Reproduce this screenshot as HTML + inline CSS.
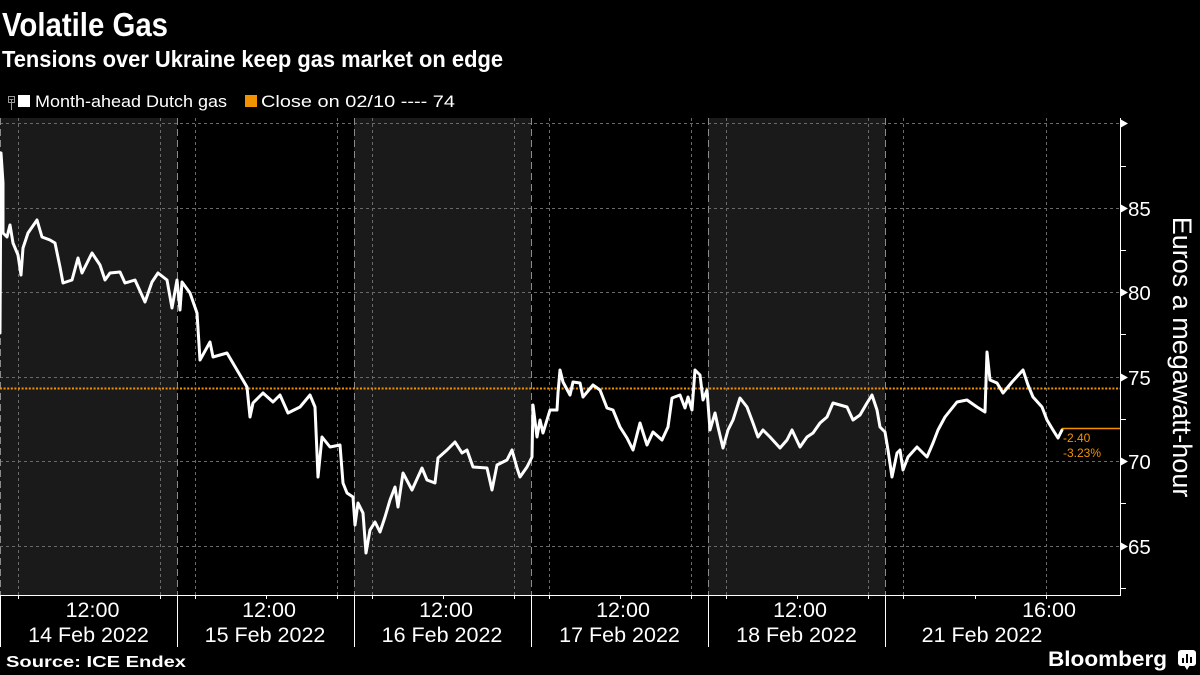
<!DOCTYPE html>
<html><head><meta charset="utf-8"><style>
html,body{margin:0;padding:0;background:#000;}
svg{display:block;}
text{font-family:"Liberation Sans",sans-serif;}
</style></head><body>
<svg width="1200" height="675" viewBox="0 0 1200 675" xmlns="http://www.w3.org/2000/svg">
<rect x="0" y="0" width="1200" height="675" fill="#000"/>
<!-- titles -->
<text x="2" y="36" font-size="33" font-weight="bold" fill="#fff" textLength="166" lengthAdjust="spacingAndGlyphs">Volatile Gas</text>
<text x="2" y="67" font-size="23" font-weight="bold" fill="#fff" textLength="501" lengthAdjust="spacingAndGlyphs">Tensions over Ukraine keep gas market on edge</text>
<!-- legend -->
<rect x="8.5" y="96.5" width="6" height="6" fill="none" stroke="#999" stroke-width="1"/>
<line x1="11.5" y1="99.5" x2="11.5" y2="110" stroke="#999" stroke-width="1"/>
<line x1="9.5" y1="99.5" x2="13.5" y2="99.5" stroke="#999" stroke-width="1"/>
<rect x="18" y="95" width="12" height="12" fill="#fff"/>
<text x="35" y="107" font-size="17" fill="#fff" textLength="192" lengthAdjust="spacingAndGlyphs">Month-ahead Dutch gas</text>
<rect x="245" y="95" width="12" height="12" fill="#f39200"/>
<text x="261" y="107" font-size="17" fill="#fff" textLength="194" lengthAdjust="spacingAndGlyphs">Close on 02/10 ---- 74</text>
<!-- shaded day bands -->
<rect x="0" y="118" width="177" height="477" fill="#1a1a1a"/>
<rect x="354" y="118" width="177" height="477" fill="#1a1a1a"/>
<rect x="708" y="118" width="177" height="477" fill="#1a1a1a"/>
<!-- horizontal grid -->
<g stroke="#6a6a6a" stroke-width="1" stroke-dasharray="3,3">
<line x1="0" y1="123.5" x2="1120" y2="123.5"/>
<line x1="0" y1="208.5" x2="1120" y2="208.5"/>
<line x1="0" y1="292.5" x2="1120" y2="292.5"/>
<line x1="0" y1="377.5" x2="1120" y2="377.5"/>
<line x1="0" y1="461.5" x2="1120" y2="461.5"/>
<line x1="0" y1="546.5" x2="1120" y2="546.5"/>
</g>
<!-- vertical grid -->
<g stroke="#6a6a6a" stroke-width="1" stroke-dasharray="3,3">
<line x1="18.5" y1="118" x2="18.5" y2="595"/>
<line x1="160.5" y1="118" x2="160.5" y2="595"/>
<line x1="195.5" y1="118" x2="195.5" y2="595"/>
<line x1="337.5" y1="118" x2="337.5" y2="595"/>
<line x1="372.5" y1="118" x2="372.5" y2="595"/>
<line x1="514.5" y1="118" x2="514.5" y2="595"/>
<line x1="549.5" y1="118" x2="549.5" y2="595"/>
<line x1="691.5" y1="118" x2="691.5" y2="595"/>
<line x1="726.5" y1="118" x2="726.5" y2="595"/>
<line x1="868.5" y1="118" x2="868.5" y2="595"/>
<line x1="903.5" y1="118" x2="903.5" y2="595"/>
<line x1="1046.5" y1="118" x2="1046.5" y2="595"/>
</g>
<!-- day separators -->
<g stroke="#8a8a8a" stroke-width="1" stroke-dasharray="7,4">
<line x1="0.5" y1="118" x2="0.5" y2="595"/>
<line x1="177.5" y1="118" x2="177.5" y2="595"/>
<line x1="354.5" y1="118" x2="354.5" y2="595"/>
<line x1="531.5" y1="118" x2="531.5" y2="595"/>
<line x1="708.5" y1="118" x2="708.5" y2="595"/>
<line x1="885.5" y1="118" x2="885.5" y2="595"/>
</g>
<!-- close line -->
<line x1="0" y1="388.5" x2="1120" y2="388.5" stroke="#f39200" stroke-width="2" stroke-dasharray="2,1.6"/>
<!-- series -->
<polyline fill="none" stroke="#fff" stroke-width="3" stroke-linejoin="round" stroke-linecap="round" points="0,333 1,153 3,183 3,233 7,237 10,225 13,243 18,255 21,275 23,248 28,233 37,220 42,237 50,240 55,243 60,267 63,283 72,280 78,258 82,273 92,253 100,265 105,280 110,273 120,272 125,283 135,280 145,302 152,282 158,273 167,280 172,308 177,280 180,310 182,282 190,293 197,313 200,360 210,342 213,357 227,353 237,370 247,387 250,417 253,403 263,393 273,402 280,395 288,413 300,407 310,395 315,407 318,477 322,437 330,447 340,445 343,483 347,493 353,497 355,525 358,503 363,513 366,553 370,530 375,522 380,532 385,517 390,500 395,487 398,507 403,473 412,490 422,468 427,480 435,483 438,458 447,450 455,442 462,453 467,450 473,467 487,468 492,490 497,465 507,460 512,450 517,468 520,477 527,467 532,457 533,405 537,437 540,420 543,433 550,410 557,410 558,393 560,370 563,382 570,395 573,382 580,383 583,397 593,385 600,390 607,408 613,410 620,427 627,438 633,450 640,423 647,445 653,432 662,440 668,427 672,398 680,395 685,408 688,397 692,410 695,370 700,375 703,400 707,390 710,430 715,413 718,427 723,448 728,430 733,420 740,398 747,407 753,423 758,437 763,430 770,437 780,448 787,440 792,430 800,447 807,437 813,433 820,423 827,417 833,403 840,405 847,407 853,420 860,415 867,403 872,395 877,410 880,427 885,432 888,450 892,477 897,453 900,450 903,470 908,457 917,447 927,457 933,443 938,430 945,417 957,402 967,400 977,407 985,412 987,352 990,380 997,383 1003,393 1012,382 1023,370 1028,385 1033,397 1042,407 1047,420 1053,430 1058,438 1062,430"/>
<!-- end annotation -->
<line x1="1062" y1="428.5" x2="1120" y2="428.5" stroke="#f39200" stroke-width="1.5"/>
<text x="1063" y="442" font-size="12" fill="#f39200">-2.40</text>
<text x="1063" y="457" font-size="12" fill="#f39200">-3.23%</text>
<!-- right axis -->
<line x1="1120.5" y1="118" x2="1120.5" y2="595" stroke="#fff" stroke-width="1"/>
<g fill="#fff">
<polygon points="1120,119 1128,123.5 1120,128"/>
<polygon points="1120,204 1128,208.5 1120,213"/>
<polygon points="1120,288 1128,292.5 1120,297"/>
<polygon points="1120,373 1128,377.5 1120,382"/>
<polygon points="1120,457 1128,461.5 1120,466"/>
<polygon points="1120,542 1128,546.5 1120,551"/>
</g>
<g stroke="#fff" stroke-width="1">
<line x1="1120" y1="166.5" x2="1126" y2="166.5"/>
<line x1="1120" y1="250.5" x2="1126" y2="250.5"/>
<line x1="1120" y1="334.5" x2="1126" y2="334.5"/>
<line x1="1120" y1="419.5" x2="1126" y2="419.5"/>
<line x1="1120" y1="503.5" x2="1126" y2="503.5"/>
<line x1="1120" y1="588.5" x2="1126" y2="588.5"/>
</g>
<g font-size="20.5" fill="#fff">
<text x="1128" y="216">85</text>
<text x="1128" y="300">80</text>
<text x="1128" y="385">75</text>
<text x="1128" y="469">70</text>
<text x="1128" y="554">65</text>
</g>
<text x="0" y="0" font-size="27" fill="#fff" text-anchor="middle" transform="translate(1173,357) rotate(90)">Euros a megawatt-hour</text>
<!-- bottom axis -->
<line x1="0" y1="595.5" x2="1121" y2="595.5" stroke="#fff" stroke-width="1"/>
<g stroke="#fff" stroke-width="1">
<line x1="0.5" y1="595" x2="0.5" y2="647"/>
<line x1="177.5" y1="595" x2="177.5" y2="647"/>
<line x1="354.5" y1="595" x2="354.5" y2="647"/>
<line x1="531.5" y1="595" x2="531.5" y2="647"/>
<line x1="708.5" y1="595" x2="708.5" y2="647"/>
<line x1="885.5" y1="595" x2="885.5" y2="647"/>
<line x1="18.5" y1="595" x2="18.5" y2="599"/>
<line x1="160.5" y1="595" x2="160.5" y2="599"/>
<line x1="195.5" y1="595" x2="195.5" y2="599"/>
<line x1="266.5" y1="595" x2="266.5" y2="599"/>
<line x1="337.5" y1="595" x2="337.5" y2="599"/>
<line x1="372.5" y1="595" x2="372.5" y2="599"/>
<line x1="443.5" y1="595" x2="443.5" y2="599"/>
<line x1="514.5" y1="595" x2="514.5" y2="599"/>
<line x1="549.5" y1="595" x2="549.5" y2="599"/>
<line x1="620.5" y1="595" x2="620.5" y2="599"/>
<line x1="691.5" y1="595" x2="691.5" y2="599"/>
<line x1="726.5" y1="595" x2="726.5" y2="599"/>
<line x1="797.5" y1="595" x2="797.5" y2="599"/>
<line x1="868.5" y1="595" x2="868.5" y2="599"/>
<line x1="903.5" y1="595" x2="903.5" y2="599"/>
<line x1="975.5" y1="595" x2="975.5" y2="599"/>
<line x1="1046.5" y1="595" x2="1046.5" y2="599"/>
</g>
<g font-size="21.5" fill="#fff" text-anchor="middle">
<text x="92.5" y="617">12:00</text>
<text x="88.5" y="642">14 Feb 2022</text>
<text x="269" y="617">12:00</text>
<text x="265" y="642">15 Feb 2022</text>
<text x="446" y="617">12:00</text>
<text x="442" y="642">16 Feb 2022</text>
<text x="623" y="617">12:00</text>
<text x="619.5" y="642">17 Feb 2022</text>
<text x="800" y="617">12:00</text>
<text x="796.5" y="642">18 Feb 2022</text>
<text x="1049" y="617">16:00</text>
<text x="982" y="642">21 Feb 2022</text>
</g>
<!-- footer -->
<text x="6" y="667" font-size="16" font-weight="bold" fill="#fff" textLength="180" lengthAdjust="spacingAndGlyphs">Source: ICE Endex</text>
<text x="1048" y="666" font-size="21" font-weight="bold" fill="#fff" textLength="119" lengthAdjust="spacingAndGlyphs">Bloomberg</text>
<rect x="1178" y="650" width="18" height="16" rx="3" fill="#fff"/>
<polygon points="1184,665 1190,665 1187,670" fill="#fff"/>
<rect x="1182" y="658" width="2" height="5" fill="#000"/>
<rect x="1186" y="654" width="2" height="9" fill="#000"/>
<rect x="1190" y="657" width="2" height="6" fill="#000"/>
</svg>
</body></html>
